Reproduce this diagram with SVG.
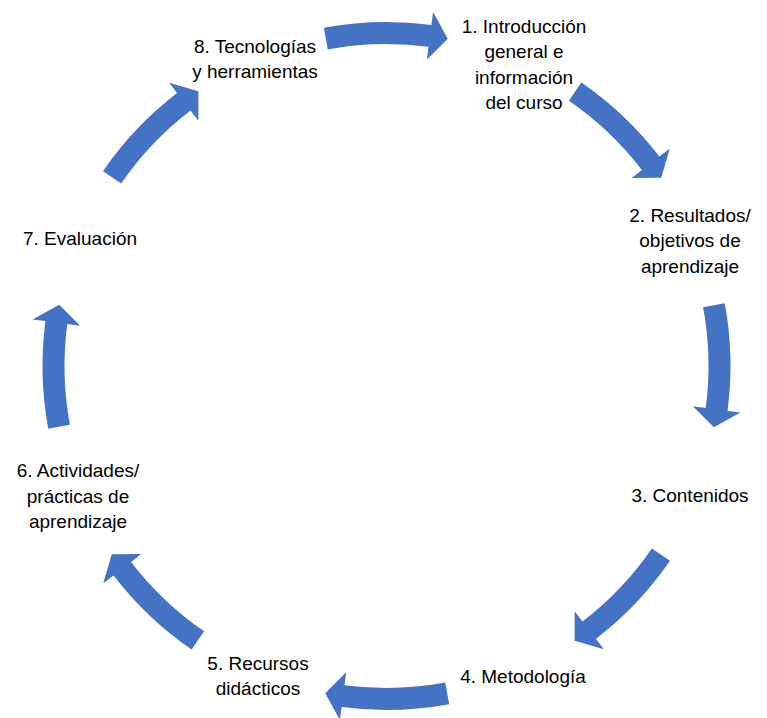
<svg xmlns="http://www.w3.org/2000/svg" xmlns:xlink="http://www.w3.org/1999/xlink" width="767" height="718" viewBox="0 0 767 718">
<style>
.lbl{font-family:"Liberation Sans","Open Sans",sans-serif;font-size:19px;fill:#000;text-anchor:middle}
.arr{fill:#4472C4}
</style>
<defs>
<path id="ca" class="arr" d="M -58.68 -316.61 A 322 322 0 0 1 42.03 -319.24 L 40.33 -306.35 L 61.26 -327.32 L 46.60 -353.94 L 44.90 -341.06 A 344 344 0 0 0 -62.69 -338.24 Z"/>
</defs>
<rect width="767" height="718" fill="#fff"/>
<g id="connectors" transform="translate(386.5 366)">
<use xlink:href="#ca" transform="rotate(0)"/>
<use xlink:href="#ca" transform="rotate(45)"/>
<use xlink:href="#ca" transform="rotate(90)"/>
<use xlink:href="#ca" transform="rotate(135)"/>
<use xlink:href="#ca" transform="rotate(180)"/>
<use xlink:href="#ca" transform="rotate(225)"/>
<use xlink:href="#ca" transform="rotate(270)"/>
<use xlink:href="#ca" transform="rotate(315)"/>
</g>
<g id="node1"><text class="lbl" x="524" y="33">1. Introducción</text><text class="lbl" x="524" y="58">general e</text><text class="lbl" x="524" y="84">información</text><text class="lbl" x="524" y="109">del curso</text></g>
<g id="node2"><text class="lbl" x="690" y="222">2. Resultados/</text><text class="lbl" x="690" y="247">objetivos de</text><text class="lbl" x="690" y="273">aprendizaje</text></g>
<g id="node3"><text class="lbl" x="690" y="502">3. Contenidos</text></g>
<g id="node4"><text class="lbl" x="523" y="683">4. Metodología</text></g>
<g id="node5"><text class="lbl" x="258" y="670">5. Recursos</text><text class="lbl" x="258" y="695">didácticos</text></g>
<g id="node6"><text class="lbl" x="78" y="477">6. Actividades/</text><text class="lbl" x="78" y="503">prácticas de</text><text class="lbl" x="78" y="528">aprendizaje</text></g>
<g id="node7"><text class="lbl" x="80" y="245">7. Evaluación</text></g>
<g id="node8"><text class="lbl" x="255" y="53">8. Tecnologías</text><text class="lbl" x="255" y="78">y herramientas</text></g>
</svg>
